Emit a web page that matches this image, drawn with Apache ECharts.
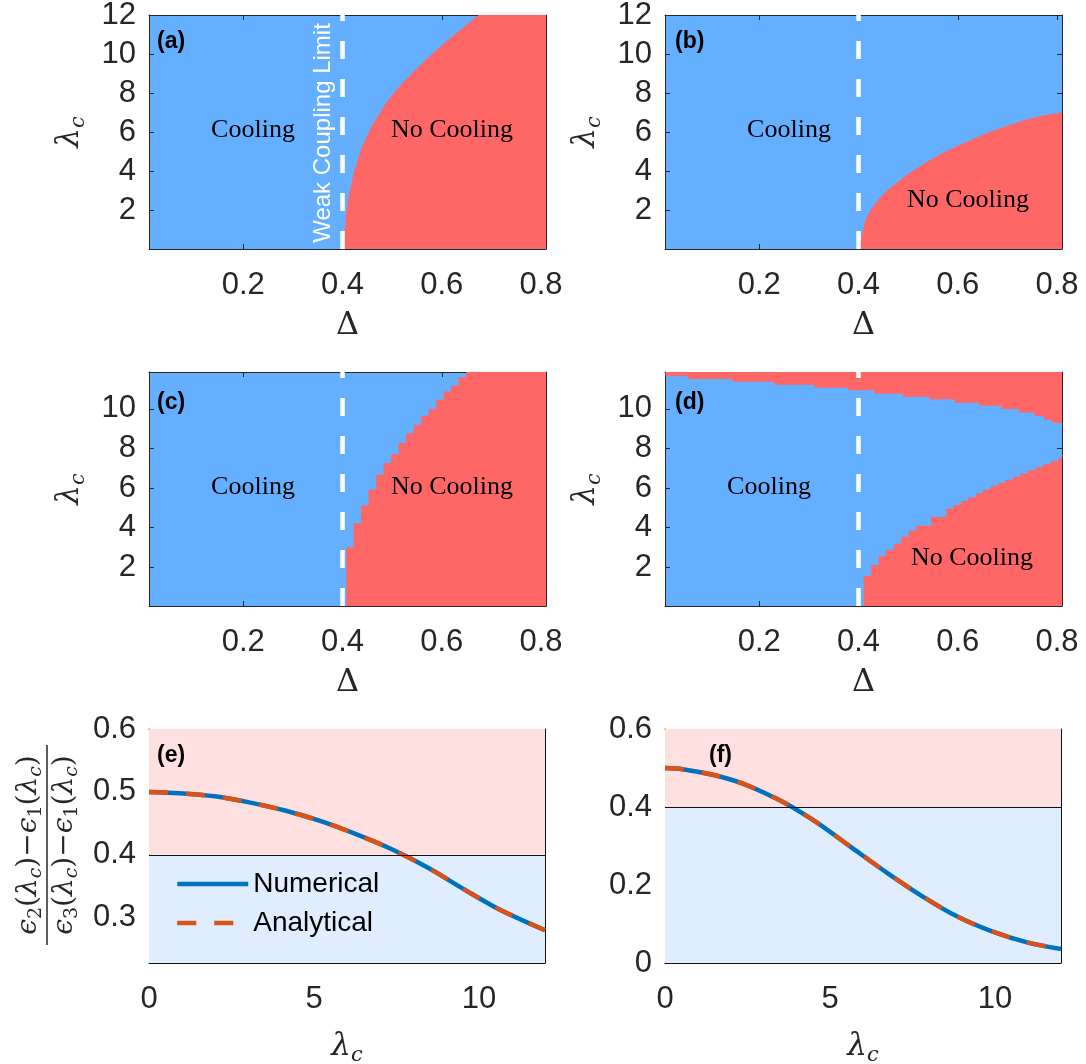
<!DOCTYPE html>
<html>
<head>
<meta charset="utf-8">
<script src="https://cdn.jsdelivr.net/npm/echarts@6/dist/echarts.min.js"></script>
<style>
  html, body { margin: 0; padding: 0; background: #fff; }
  #chart { width: 1086px; height: 1064px; }
</style>
</head>
<body>
<div id="chart"></div>
<script>
// tick values
const deltaTicks = [0.2, 0.4, 0.6, 0.8];
const lambdaTicksAB = [2, 4, 6, 8, 10, 12];
const lambdaTicksCD = [2, 4, 6, 8, 10];
const lambdaTicksEF = [0, 5, 10];
const ratioTicksE = [0.3, 0.4, 0.5, 0.6];
const ratioTicksF = [0, 0.2, 0.4, 0.6];

const weakLimit = 0.4;   // weak coupling limit (dashed line)
const threshold = 0.4;   // cooling threshold in (e),(f)

// (a) boundary of the no-cooling region
const aDelta  = [0.4036, 0.4036, 0.405, 0.4072, 0.412, 0.4173, 0.423, 0.4303, 0.4375, 0.4483, 0.459, 0.4735, 0.488, 0.506, 0.524, 0.5493, 0.574, 0.5997, 0.625, 0.650, 0.675, 0.81];
const aLambda = [0.02, 0.5, 1.01, 1.69, 2.55, 3.23, 3.91, 4.5, 5.1, 5.7, 6.29, 6.89, 7.49, 8.06, 8.58, 9.24, 9.84, 10.42, 10.96, 11.49, 12, 12];

// (b)
const bDelta  = [0.4049, 0.4055, 0.408, 0.4146, 0.425, 0.4423, 0.46, 0.494, 0.529, 0.5637, 0.598, 0.633, 0.668, 0.702, 0.737, 0.772, 0.81];
const bLambda = [0.02, 0.5, 0.84, 1.52, 2.03, 2.6, 3.06, 3.74, 4.33, 4.85, 5.27, 5.66, 6.04, 6.34, 6.63, 6.84, 7.0];

// (c) numerical columns (left edge, height)
const cDelta  = [0.4077, 0.4228, 0.438, 0.4531, 0.4682, 0.4833, 0.4984, 0.5136, 0.5287, 0.5438, 0.5589, 0.574, 0.5892, 0.6043, 0.6194, 0.6345, 0.6496, 0.81];
const cLambda = [3.0, 4.2, 5.1, 5.9, 6.66, 7.25, 7.69, 8.27, 8.75, 9.17, 9.63, 9.97, 10.45, 10.86, 11.16, 11.58, 11.86, 11.86];

// (d) upper edge of the cooling region
const dTopDelta  = [0.011, 0.056, 0.147, 0.231, 0.312, 0.379, 0.433, 0.49, 0.543, 0.594, 0.644, 0.688, 0.725, 0.755, 0.775, 0.79, 0.81];
const dTopLambda = [11.67, 11.52, 11.38, 11.23, 11.08, 10.95, 10.78, 10.62, 10.49, 10.32, 10.17, 10.0, 9.83, 9.65, 9.45, 9.31, 9.16];
// (d) lower no-cooling region
const dBotDelta  = [0.4103, 0.4257, 0.4412, 0.456, 0.4714, 0.4863, 0.5017, 0.5172, 0.5468, 0.577, 0.592, 0.607, 0.622, 0.637, 0.651, 0.667, 0.682, 0.697, 0.712, 0.727, 0.742, 0.758, 0.773, 0.788, 0.803, 0.81];
const dBotLambda = [1.54, 2.10, 2.56, 2.86, 3.16, 3.53, 3.84, 4.08, 4.52, 4.94, 5.13, 5.33, 5.52, 5.71, 5.9, 6.1, 6.25, 6.4, 6.55, 6.72, 6.88, 7.05, 7.2, 7.35, 7.5, 7.67];

// (e) gap ratio vs lambda_c
const eLambda     = [0, 0.91, 1.99, 3.07, 4.15, 5.23, 6.31, 7.39, 8.47, 9.55, 10.62, 12];
const eNumerical  = [0.5, 0.498, 0.493, 0.483, 0.47, 0.453, 0.432, 0.408, 0.379, 0.345, 0.313, 0.28];
const eAnalytical = [0.5, 0.498, 0.493, 0.483, 0.47, 0.453, 0.432, 0.408, 0.379, 0.345, 0.313, 0.28];

// (f)
const fLambda     = [0, 0.53, 1.48, 2.32, 3.37, 3.85, 4.64, 5.69, 6.75, 7.8, 8.86, 9.91, 10.97, 12];
const fNumerical  = [0.5, 0.497, 0.482, 0.461, 0.422, 0.4, 0.358, 0.294, 0.23, 0.171, 0.119, 0.081, 0.053, 0.036];
const fAnalytical = [0.5, 0.497, 0.482, 0.461, 0.422, 0.4, 0.358, 0.294, 0.23, 0.171, 0.119, 0.081, 0.053, 0.036];

const BLUE = '#64AFFF', RED = '#FF6666', PINK = '#FFE0E0', LBLUE = '#DFEDFF';
const AX = '#262626';
const SANS = 'Liberation Sans', SERIF = 'DejaVu Serif';

const zip = (xs, ys) => xs.map((x, i) => [x, ys[i]]);

const grids = [
  { left: 149, top: 15, width: 397, height: 234 },
  { left: 665, top: 15, width: 397, height: 234 },
  { left: 149, top: 372, width: 397, height: 234 },
  { left: 665, top: 372, width: 397, height: 234 },
  { left: 149, top: 729, width: 396, height: 234 },
  { left: 665, top: 729, width: 396, height: 234 }
];

const lamRich = {
  l: { fontFamily: SERIF, fontStyle: 'italic', fontSize: 31, lineHeight: 38, verticalAlign: 'middle', color: AX },
  s: { fontFamily: SERIF, fontStyle: 'italic', fontSize: 21, lineHeight: 20, verticalAlign: 'bottom', color: AX }
};

const xAxes = [], yAxes = [];
function addAxes(gi, xr, yr, xTicks, yTicks, xFmt, yFmt, xName, yName, lineCol) {
  const tick = (vals) => ({ show: true, inside: true, length: 5, customValues: vals, lineStyle: { color: lineCol, width: 1 } });
  const line = { show: true, onZero: false, lineStyle: { color: lineCol, width: 1 } };
  xAxes.push({
    type: 'value', gridIndex: gi, min: xr[0], max: xr[1], position: 'bottom',
    axisLine: line, axisTick: tick(xTicks), splitLine: { show: false },
    axisLabel: { customValues: xTicks, formatter: xFmt, margin: 21, color: AX, fontSize: 31, fontFamily: SANS },
    name: xName.text, nameLocation: 'middle', nameGap: xName.gap,
    nameTextStyle: xName.style
  });
  xAxes.push({
    type: 'value', gridIndex: gi, min: xr[0], max: xr[1], position: 'top',
    axisLine: line, axisTick: tick(xTicks), axisLabel: { show: false }, splitLine: { show: false }
  });
  yAxes.push({
    type: 'value', gridIndex: gi, min: yr[0], max: yr[1], position: 'left',
    axisLine: line, axisTick: tick(yTicks), splitLine: { show: false },
    axisLabel: { customValues: yTicks, formatter: yFmt, margin: 13, color: AX, fontSize: 31, fontFamily: SANS },
    name: yName ? yName.text : '', nameLocation: 'middle', nameGap: yName ? yName.gap : 0, nameRotate: 90,
    nameTextStyle: yName ? yName.style : {}
  });
  yAxes.push({
    type: 'value', gridIndex: gi, min: yr[0], max: yr[1], position: 'right',
    axisLine: line, axisTick: tick(yTicks), axisLabel: { show: false }, splitLine: { show: false }
  });
}

const fmt1 = v => v.toFixed(1);
const fmtInt = v => String(Math.round(v));
const fmtF = v => (v === 0 ? '0' : v.toFixed(1));
const deltaName = { text: 'Δ', gap: 61, style: { fontFamily: SERIF, fontSize: 32, color: AX } };
const lamName = (gap) => ({ text: '{l|λ}{s|c}', gap: gap, style: { rich: lamRich } });

const yRangeAB = [0.02, 12], yRangeCD = [0.04, 11.86], xRange = [0.01, 0.81];
addAxes(0, xRange, yRangeAB, deltaTicks, lambdaTicksAB, fmt1, fmtInt, deltaName, lamName(60), AX);
addAxes(1, xRange, yRangeAB, deltaTicks, lambdaTicksAB, fmt1, fmtInt, deltaName, lamName(60), AX);
addAxes(2, xRange, yRangeCD, deltaTicks, lambdaTicksCD, fmt1, fmtInt, deltaName, lamName(60), AX);
addAxes(3, xRange, yRangeCD, deltaTicks, lambdaTicksCD, fmt1, fmtInt, deltaName, lamName(60), AX);
const yRangeE = [0.228, 0.6], yRangeF = [0, 0.6];
addAxes(4, [0, 12], yRangeE, lambdaTicksEF, ratioTicksE, fmtInt, fmt1, lamName(65), null, '#111');
addAxes(5, [0, 12], yRangeF, lambdaTicksEF, ratioTicksF, fmtInt, fmtF, lamName(65), null, '#111');

const series = [];
function regionSeries(gi, data, opts) {
  series.push(Object.assign({
    type: 'line', xAxisIndex: gi * 2, yAxisIndex: gi * 2, data: data, symbol: 'none', silent: true,
    lineStyle: { width: 0.5, color: RED },
    areaStyle: { color: RED, opacity: 1, origin: 'start' }, z: 2
  }, opts || {}));
}
function weakLine(gi, yr) {
  series.push({
    type: 'line', xAxisIndex: gi * 2, yAxisIndex: gi * 2, symbol: 'none', silent: true, z: 3,
    data: [[weakLimit, yr[0]], [weakLimit, yr[1]]],
    lineStyle: { color: '#fff', width: 4.5, type: [18, 20] }
  });
}
regionSeries(0, zip(aDelta, aLambda));
weakLine(0, yRangeAB);
regionSeries(1, zip(bDelta, bLambda));
weakLine(1, yRangeAB);
regionSeries(2, zip(cDelta, cLambda), { step: 'end' });
weakLine(2, yRangeCD);
regionSeries(3, zip(dTopDelta, dTopLambda), { step: 'end', areaStyle: { color: RED, opacity: 1, origin: 'end' } });
regionSeries(3, zip(dBotDelta, dBotLambda), { step: 'end' });
weakLine(3, yRangeCD);

function ratioSeries(gi, xs, num, ana, yr, suffix) {
  series.push({
    name: 'Numerical' + suffix, type: 'line', xAxisIndex: gi * 2, yAxisIndex: gi * 2,
    data: zip(xs, num), symbol: 'none', smooth: 0.3, z: 3,
    lineStyle: { color: '#0072BD', width: 4.5 }, itemStyle: { color: '#0072BD' },
    markArea: {
      silent: true,
      data: [
        [{ yAxis: threshold, itemStyle: { color: PINK } }, { yAxis: yr[1] }],
        [{ yAxis: yr[0], itemStyle: { color: LBLUE } }, { yAxis: threshold }]
      ]
    },
    markLine: {
      silent: true, symbol: 'none', label: { show: false },
      lineStyle: { color: '#111', width: 1, type: 'solid' },
      data: [{ yAxis: threshold }]
    }
  });
  series.push({
    name: 'Analytical' + suffix, type: 'line', xAxisIndex: gi * 2, yAxisIndex: gi * 2,
    data: zip(xs, ana), symbol: 'none', smooth: 0.3, z: 4,
    lineStyle: { color: '#D95319', width: 4.5, type: [19, 18] }, itemStyle: { color: '#D95319' }
  });
}
ratioSeries(4, eLambda, eNumerical, eAnalytical, yRangeE, '');
ratioSeries(5, fLambda, fNumerical, fAnalytical, yRangeF, ' (f)');

const txt = (x, y, text, font, fill, extra) => Object.assign({
  type: 'text', x: x, y: y, silent: true, z: 100,
  style: { text: text, font: font, fill: fill || '#000', align: 'center', verticalAlign: 'middle' }
}, extra || {});
const serifLab = '26px "Liberation Serif"';
const panelLab = 'bold 23px "Liberation Sans"';
const leftTxt = (x, y, t) => txt(x, y, t, panelLab, '#000', { style: { text: t, font: panelLab, fill: '#000', align: 'left', verticalAlign: 'middle' } });

const fracRich = {
  e: { fontFamily: SERIF, fontStyle: 'italic', fontSize: 28, lineHeight: 34, verticalAlign: 'middle', fill: AX },
  n: { fontFamily: SERIF, fontSize: 28, lineHeight: 34, verticalAlign: 'middle', fill: AX },
  s: { fontFamily: SERIF, fontSize: 19, lineHeight: 18, verticalAlign: 'bottom', fill: AX },
  si: { fontFamily: SERIF, fontStyle: 'italic', fontSize: 19, lineHeight: 18, verticalAlign: 'bottom', fill: AX }
};
const numText = '{e|ϵ}{s|2}{n|(}{e|λ}{si|c}{n|)−}{e|ϵ}{s|1}{n|(}{e|λ}{si|c}{n|)}';
const denText = '{e|ϵ}{s|3}{n|(}{e|λ}{si|c}{n|)−}{e|ϵ}{s|1}{n|(}{e|λ}{si|c}{n|)}';

const graphic = [
  txt(253, 130, 'Cooling', serifLab),
  txt(452, 130, 'No Cooling', serifLab),
  txt(789, 130, 'Cooling', serifLab),
  txt(968, 200, 'No Cooling', serifLab),
  txt(253, 487, 'Cooling', serifLab),
  txt(452, 487, 'No Cooling', serifLab),
  txt(769, 487, 'Cooling', serifLab),
  txt(972, 558, 'No Cooling', serifLab),
  txt(323, 133, 'Weak Coupling Limit', '24px "Liberation Sans"', '#fff', { rotation: Math.PI / 2 }),
  leftTxt(157, 42, '(a)'),
  leftTxt(675, 42, '(b)'),
  leftTxt(157, 403, '(c)'),
  leftTxt(675, 403, '(d)'),
  leftTxt(157, 756, '(e)'),
  leftTxt(709, 756, '(f)'),
  {
    type: 'group', x: 47, y: 845, rotation: Math.PI / 2, silent: true,
    children: [
      { type: 'text', x: 0, y: -1, style: { text: numText, rich: fracRich, align: 'center', verticalAlign: 'bottom' } },
      { type: 'line', shape: { x1: -100, y1: 0, x2: 100, y2: 0 }, style: { stroke: AX, lineWidth: 1.5 } },
      { type: 'text', x: 0, y: 1, style: { text: denText, rich: fracRich, align: 'center', verticalAlign: 'top' } }
    ]
  }
];

const option = {
  backgroundColor: '#fff',
  animation: false,
  grid: grids.map((g, i) => Object.assign({
    show: true, backgroundColor: i < 4 ? BLUE : 'transparent', borderWidth: 0,
    containLabel: false, outerBoundsMode: 'none'
  }, g)),
  xAxis: xAxes,
  yAxis: yAxes,
  legend: {
    data: ['Numerical', 'Analytical'], orient: 'vertical', left: 175, top: 870,
    padding: 0, itemGap: 11, itemWidth: 71, itemHeight: 14, selectedMode: false,
    itemStyle: { opacity: 0 },
    lineStyle: { width: 4.5 },
    textStyle: { fontSize: 28, fontFamily: SANS, color: '#000' }
  },
  series: series,
  graphic: graphic
};

const chart = echarts.init(document.getElementById('chart'), null, { renderer: 'canvas' });
chart.setOption(option);
</script>
</body>
</html>
